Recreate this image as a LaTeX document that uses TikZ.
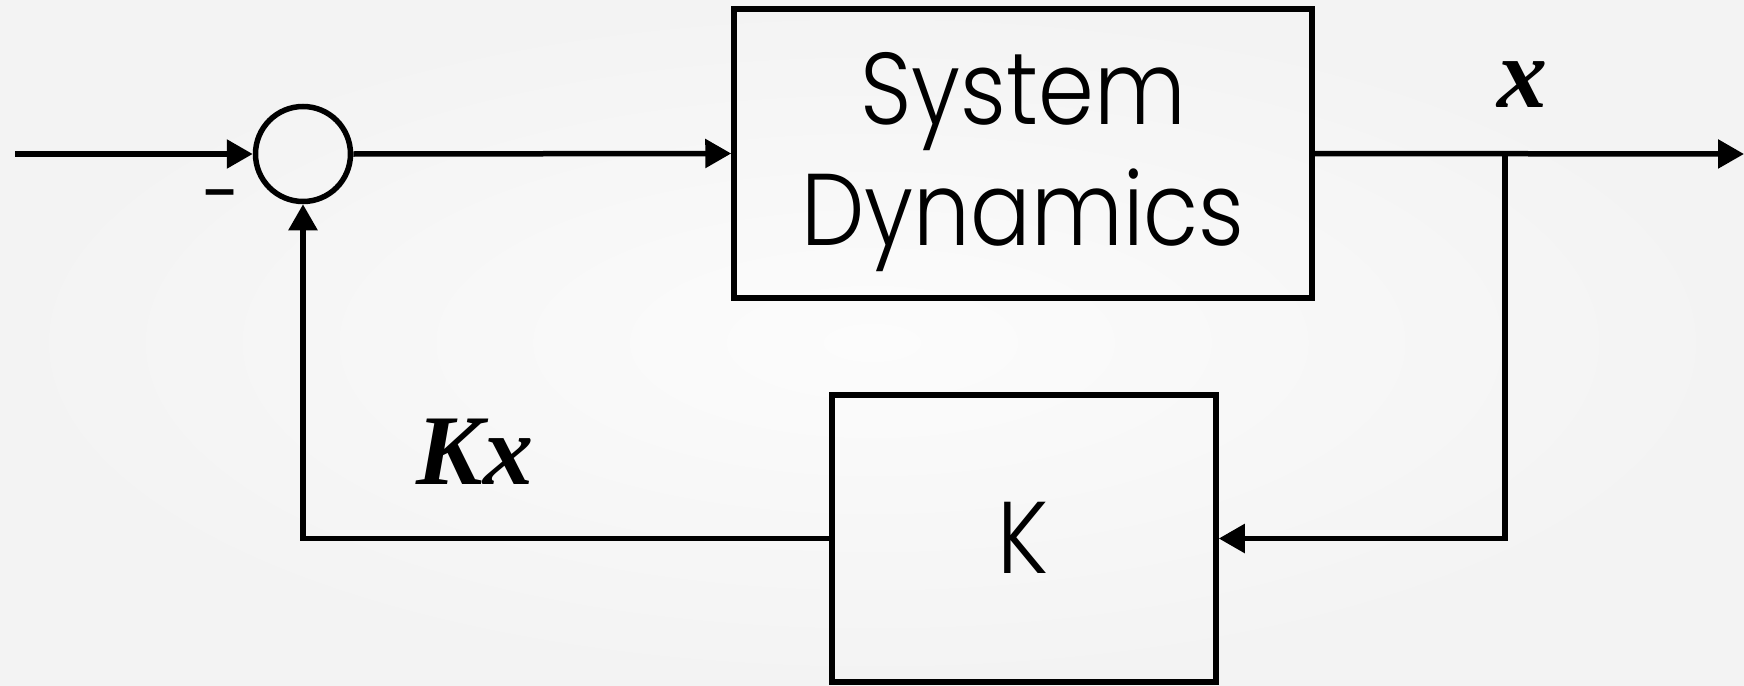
\documentclass[tikz,border=0pt]{standalone}
\usepackage{fontspec}
\setmainfont{Liberation Serif}
\newfontfamily\gothic[FakeStretch=0.88]{Poppins Light}
\newfontfamily\tnr{Liberation Serif}
\newfontfamily\arialb{Liberation Sans}
\usetikzlibrary{arrows.meta}
\definecolor{bgin}{HTML}{FCFCFC}
\definecolor{bgout}{HTML}{F3F3F3}
\begin{document}
\begin{tikzpicture}[x=1pt,y=-1pt,
  wire/.style={line width=5.5pt,-{Triangle[length=26pt,width=28pt]}},
  blockbox/.style={draw,line width=5.5pt,rectangle,inner sep=0pt},
  blocktext/.style={font=\gothic\fontsize{102}{121}\selectfont,align=center,inner sep=0pt},
  sumnode/.style={draw,line width=5.5pt,circle,minimum size=95pt,inner sep=0pt},
  mathlbl/.style={font=\tnr\bfseries\itshape\fontsize{100}{110}\selectfont,inner sep=0pt}]
\useasboundingbox (0,0) rectangle (1744,685);
\shade[inner color=bgin,outer color=bgout] (0,0) rectangle (1744,685);
\node[sumnode] (sum) at (303,154) {};
\node[blockbox,minimum width=578pt,minimum height=289pt] (sys) at (1023,153.5) {};
\node[blocktext] (systxt) at (1023,162) {System\\Dynamics};
\node[blockbox,minimum width=384pt,minimum height=287pt] (kbox) at (1024,538.5) {};
\node[blocktext] (ktxt) at (1023,538) {K};
\coordinate (in) at (15,154);
\coordinate (branch) at (1505,154);
\coordinate (out) at (1744,154);
\draw[wire] (in) -- (sum.west);
\draw[wire] (sum.east) -- (sys.west);
\draw[wire] (sys.east) -- (out);
\draw[wire] (branch) |- (kbox.east);
\draw[wire] (kbox.west) -| (sum.south);
\node[mathlbl] (xl) at (1522,85) {x};
\node[mathlbl] (kxl) at (475,452) {Kx};
\node[font=\arialb\bfseries\fontsize{56}{58}\selectfont,inner sep=0pt] (minus) at (220,199) {–};
\end{tikzpicture}
\end{document}
